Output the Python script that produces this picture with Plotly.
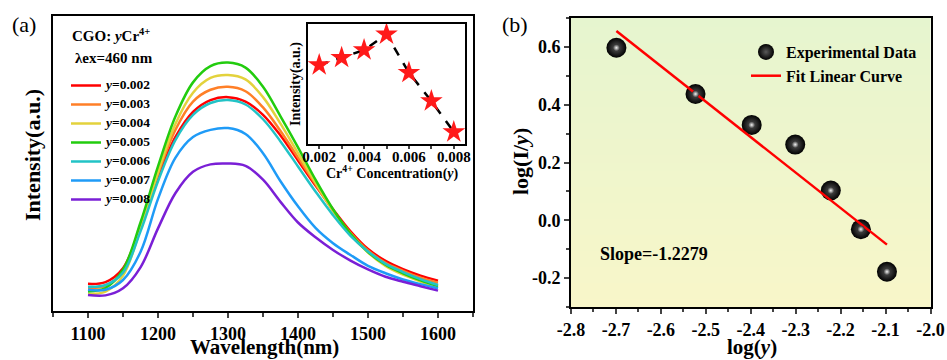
import numpy as np
import plotly.graph_objects as go

# ---------------- data ----------------
wavelength = [1100, 1125, 1150, 1175, 1200, 1225, 1250, 1275, 1300, 1325, 1350,
              1375, 1400, 1425, 1450, 1475, 1500, 1525, 1550, 1575, 1600]
int_002 = [0.092, 0.098, 0.145, 0.285, 0.455, 0.590, 0.675, 0.715, 0.725, 0.710, 0.665,
           0.595, 0.510, 0.425, 0.345, 0.270, 0.210, 0.170, 0.142, 0.120, 0.103]
int_003 = [0.078, 0.085, 0.135, 0.285, 0.465, 0.615, 0.710, 0.750, 0.760, 0.745, 0.690,
           0.610, 0.520, 0.430, 0.340, 0.265, 0.205, 0.163, 0.136, 0.113, 0.096]
int_004 = [0.058, 0.066, 0.120, 0.280, 0.470, 0.635, 0.740, 0.790, 0.800, 0.785, 0.725,
           0.635, 0.535, 0.435, 0.340, 0.260, 0.198, 0.153, 0.123, 0.100, 0.080]
int_005 = [0.066, 0.078, 0.140, 0.300, 0.490, 0.660, 0.775, 0.830, 0.842, 0.825, 0.760,
           0.660, 0.555, 0.445, 0.345, 0.262, 0.200, 0.157, 0.128, 0.104, 0.085]
int_006 = [0.082, 0.088, 0.130, 0.270, 0.440, 0.580, 0.665, 0.705, 0.715, 0.700, 0.650,
           0.575, 0.490, 0.405, 0.325, 0.255, 0.202, 0.160, 0.132, 0.108, 0.088]
int_007 = [0.072, 0.072, 0.105, 0.200, 0.380, 0.520, 0.590, 0.614, 0.620, 0.600, 0.535,
           0.440, 0.355, 0.282, 0.230, 0.190, 0.153, 0.128, 0.107, 0.091, 0.077]
int_008 = [0.054, 0.053, 0.077, 0.148, 0.280, 0.400, 0.472, 0.497, 0.500, 0.492, 0.445,
           0.370, 0.300, 0.250, 0.207, 0.171, 0.141, 0.116, 0.099, 0.084, 0.069]

series_labels = ["0.002", "0.003", "0.004", "0.005", "0.006", "0.007", "0.008"]
series_colors = ["#ff0000", "#ff7f27", "#e3d23c", "#22cc0e", "#22c3c6", "#1f9bf7", "#7a1fd6"]
spectra = [int_002, int_003, int_004, int_005, int_006, int_007, int_008]

conc = [0.002, 0.003, 0.004, 0.005, 0.006, 0.007, 0.008]
inset_intensity = [79, 86.3, 94, 109.7, 71.3, 43, 12]

log_I_y = [0.597, 0.437, 0.330, 0.262, 0.103, -0.031, -0.178]
fit_slope = -1.2279
fit_intercept = -2.659

b_xticks = [-2.8, -2.7, -2.6, -2.5, -2.4, -2.3, -2.2, -2.1, -2.0]
b_xticktext = ["-2.8", "-2.7", "-2.6", "-2.5", "-2.4", "-2.3", "-2.2", "-2.1", "-2.0"]
b_yticks = [-0.2, 0.0, 0.2, 0.4, 0.6]
b_yticktext = ["-0.2", "0.0", "0.2", "0.4", "0.6"]

FONT = "Liberation Serif"

# the page's body margin is removed by a post script, so figure pixels = page pixels
W, H = 947, 360


def px(x):
    return x / W


def py(y):
    return 1 - y / H


fig = go.Figure()

# ---------------- panel (a) spectra ----------------
for lab, col, vals in zip(series_labels, series_colors, spectra):
    fig.add_trace(go.Scatter(
        x=wavelength, y=vals, mode="lines", line=dict(color=col, width=2.5, shape="spline"),
        name=f'<span style="font-size:13.5px"><i>y</i>=<b>{lab}</b></span>',
        xaxis="x", yaxis="y", legend="legend"))

# ---------------- inset ----------------
fig.add_trace(go.Scatter(
    x=conc, y=inset_intensity, mode="lines+markers",
    line=dict(color="black", width=2.5, dash="dash"),
    marker=dict(symbol="star", size=17, color="#ff1a1a", line=dict(width=0)),
    xaxis="x3", yaxis="y3", showlegend=False))

# ---------------- panel (b) ----------------
log_y = list(np.log10(conc))
fig.add_trace(go.Heatmap(
    x=[-2.8, -2.0], y=[-0.3, 0.7], z=[[0, 0], [1, 1]], zsmooth="best",
    colorscale=[[0, "#f8f6c9"], [1, "#e6f5cf"]], showscale=False, hoverinfo="skip",
    xaxis="x2", yaxis="y2"))

fit_x = [log_y[0], log_y[-1]]
fit_y = [fit_intercept + fit_slope * v for v in fit_x]

fig.add_trace(go.Scatter(
    x=log_y, y=log_I_y, mode="markers", name="Experimental Data",
    marker=dict(size=20, color="black", gradient=dict(type="radial", color="#5a5a5a"),
                line=dict(width=0)),
    xaxis="x2", yaxis="y2", legend="legend2"))
fig.add_trace(go.Scatter(
    x=fit_x, y=fit_y, mode="lines", name="Fit Linear Curve",
    line=dict(color="#ff0000", width=2.5),
    xaxis="x2", yaxis="y2", legend="legend2"))
fig.add_trace(go.Scatter(
    x=log_y, y=log_I_y, mode="markers", showlegend=False, hoverinfo="skip",
    marker=dict(size=7, color="#333333", gradient=dict(type="radial", color="#f4f4f4"),
                line=dict(width=0)),
    xaxis="x2", yaxis="y2"))

tickfont = dict(family=FONT, size=18, color="black", weight="bold")
axis_common = dict(showline=True, linewidth=2, linecolor="black", mirror=True,
                   showgrid=False, zeroline=False, automargin=False)

fig.update_layout(
    width=W, height=H,
    margin=dict(l=0, r=0, t=0, b=0, autoexpand=False),
    paper_bgcolor="white", plot_bgcolor="white",
    font=dict(family=FONT, color="black"),
    xaxis=dict(domain=[px(53), px(473)], range=[1050, 1650], anchor="y",
               tick0=1100, dtick=100, ticks="outside", ticklen=5, tickwidth=1.5,
               minor=dict(dtick=50, tick0=1050, ticks="outside", ticklen=4, tickwidth=1.5),
               tickfont=tickfont, **axis_common),
    yaxis=dict(domain=[py(311), py(16)], range=[0, 1], anchor="x",
               showticklabels=False, ticks="", **axis_common),
    xaxis2=dict(domain=[px(571), px(930.5)], range=[-2.8, -2.0], anchor="y2",
                tickmode="array", tickvals=b_xticks, ticktext=b_xticktext,
                ticks="outside", ticklen=5, tickwidth=1.5,
                minor=dict(tickmode="linear", tick0=-2.8, dtick=0.05, ticks="outside",
                           ticklen=3, tickwidth=1.5),
                tickfont=tickfont, **axis_common),
    yaxis2=dict(domain=[py(307), py(18)], range=[-0.3, 0.7], anchor="x2",
                tickmode="array", tickvals=b_yticks, ticktext=b_yticktext,
                ticks="outside", ticklen=5, tickwidth=1.5,
                minor=dict(tickmode="linear", tick0=0, dtick=0.1, ticks="outside",
                           ticklen=3, tickwidth=1.5),
                tickfont=tickfont, **axis_common),
    xaxis3=dict(domain=[px(308), px(465)], range=[0.0015, 0.0085], anchor="y3",
                tick0=0.002, dtick=0.002, tickformat=".3f", ticks="outside", ticklen=3, tickwidth=1.5,
                minor=dict(dtick=0.001, tick0=0.002, ticks="outside", ticklen=3, tickwidth=1.5),
                ticklabelstandoff=-5,
                tickfont=dict(family=FONT, size=15, color="black", weight="bold"), **axis_common),
    yaxis3=dict(domain=[py(144), py(24)], range=[0, 120], anchor="x3",
                showticklabels=False, ticks="", **axis_common),
    legend=dict(x=px(66), y=py(71), xanchor="left", yanchor="top",
                bgcolor="rgba(0,0,0,0)", font=dict(family=FONT, size=10, weight="bold"),
                tracegroupgap=0),
    legend2=dict(x=px(746), y=py(35), xanchor="left", yanchor="top",
                 bgcolor="rgba(0,0,0,0)", font=dict(family=FONT, size=16, weight="bold")),
    showlegend=True,
)


def ann(text, x, y, size, bold=True, angle=0, xanchor="center"):
    fig.add_annotation(text=text, x=px(x), y=py(y), xref="paper", yref="paper", showarrow=False,
                       textangle=angle, xanchor=xanchor, yanchor="middle",
                       font=dict(family=FONT, size=size, color="black",
                                 weight="bold" if bold else "normal"))


ann("(a)", 24, 25, 22, bold=False)
ann("(b)", 515, 25, 22, bold=False)
ann("Intensity(a.u.)", 32, 155, 22, angle=-90)
ann("Wavelength(nm)", 264, 347, 21)
ann("log(I/<i>y</i>)", 521, 162, 22, angle=-90)
ann("log(<i>y</i>)", 752, 347, 21)
ann("Slope=-1.2279", 598, 254, 18, xanchor="left")
ann("CGO: <i>y</i>Cr<sup>4+</sup>", 70, 35, 15, xanchor="left")
ann("λex=460 nm", 73, 58, 15, xanchor="left")
ann("Intensity(a.u.)", 296, 84, 14, angle=-90)
ann("Cr<sup>4+</sup> Concentration(<i>y</i>)", 392, 172, 14)

fig.write_html("out.html", config={"displayModeBar": False},
               post_script="document.body.style.margin='0px';document.body.style.overflow='hidden';")
